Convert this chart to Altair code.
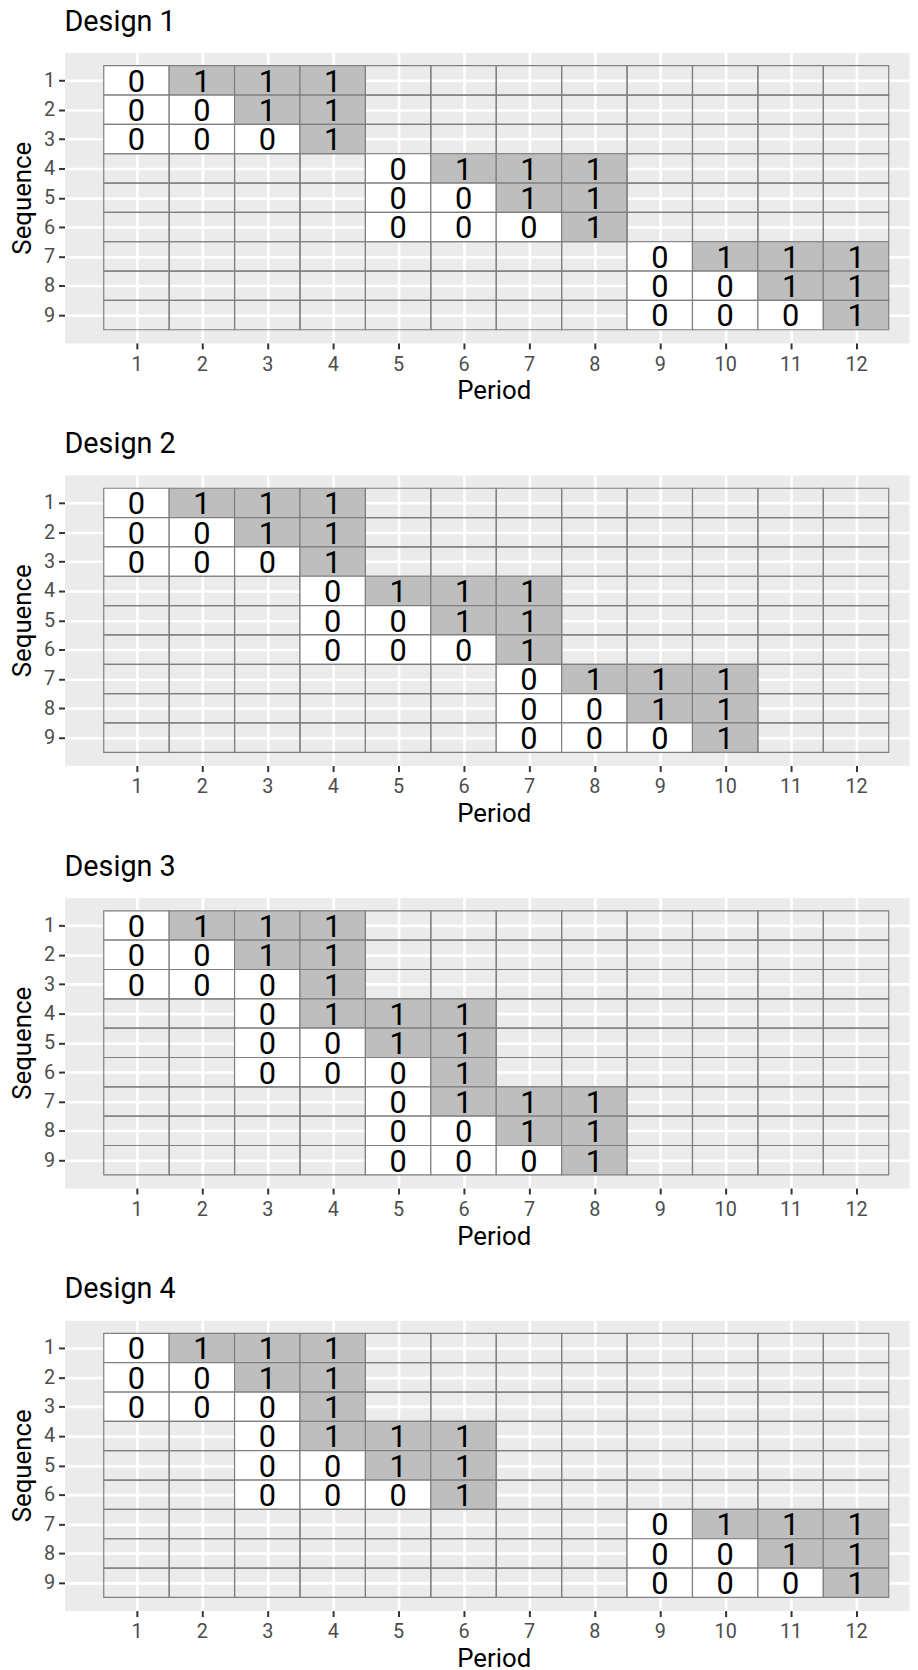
import altair as alt
import pandas as pd

FONT = "Roboto"

x_ticks = list(range(1, 13))
y_ticks = list(range(1, 10))

design_titles = ["Design 1", "Design 2", "Design 3", "Design 4"]

# one string per sequence (1..9), one character per period (1..12); "." = empty cell
design_1 = [
    "0111........",
    "0011........",
    "0001........",
    "....0111....",
    "....0011....",
    "....0001....",
    "........0111",
    "........0011",
    "........0001",
]
design_2 = [
    "0111........",
    "0011........",
    "0001........",
    "...0111.....",
    "...0011.....",
    "...0001.....",
    "......0111..",
    "......0011..",
    "......0001..",
]
design_3 = [
    "0111........",
    "0011........",
    "0001........",
    "..0111......",
    "..0011......",
    "..0001......",
    "....0111....",
    "....0011....",
    "....0001....",
]
design_4 = [
    "0111........",
    "0011........",
    "0001........",
    "..0111......",
    "..0011......",
    "..0001......",
    "........0111",
    "........0011",
    "........0001",
]
designs = [design_1, design_2, design_3, design_4]


def to_frame(rows):
    recs = []
    for s, row in enumerate(rows, start=1):
        for p, ch in enumerate(row, start=1):
            recs.append({
                "seq": s, "period": p,
                "value": "" if ch == "." else ch,
                "x0": p - 0.5, "x1": p + 0.5,
                "y0": s - 0.5, "y1": s + 0.5,
            })
    return pd.DataFrame(recs)


def x_axis():
    return alt.Axis(
        values=x_ticks, title="Period", grid=True, gridColor="white", gridWidth=2.6,
        domain=False, ticks=True, tickSize=6, tickWidth=2, tickColor="#333333",
        labelFont=FONT, labelFontSize=20, labelColor="#4D4D4D", labelPadding=5.5,
        labelFlush=False, labelOverlap=False,
        titleFont=FONT, titleFontSize=26, titleColor="black", titleFontWeight="normal",
        titlePadding=4, titleX=433,
    )


def y_axis():
    return alt.Axis(
        values=y_ticks, title="Sequence", grid=True, gridColor="white", gridWidth=2.6,
        domain=False, ticks=True, tickSize=6, tickWidth=2, tickColor="#333333",
        labelFont=FONT, labelFontSize=20, labelColor="#4D4D4D", labelPadding=4,
        labelFlush=False, labelOverlap=False,
        titleFont=FONT, titleFontSize=26, titleColor="black", titleFontWeight="normal",
        titlePadding=8.5,
    )


def panel(title, rows):
    df = to_frame(rows)
    xs = alt.Scale(domain=[-0.1, 12.81], nice=False, zero=False)
    ys = alt.Scale(domain=[0.05, 9.95], nice=False, zero=False, reverse=True)
    base = alt.Chart(df)
    tiles = base.mark_rect(stroke="#7F7F7F", strokeWidth=1.2).encode(
        x=alt.X("x0:Q", scale=xs, axis=x_axis()),
        x2="x1:Q",
        y=alt.Y("y0:Q", scale=ys, axis=y_axis()),
        y2="y1:Q",
        fill=alt.Fill(
            "value:N",
            scale=alt.Scale(domain=["0", "1", ""],
                            range=["#FFFFFF", "#BEBEBE", "rgba(0,0,0,0)"]),
            legend=None,
        ),
    )
    labels = base.transform_filter("datum.value != ''").mark_text(
        font=FONT, fontSize=31, baseline="middle", align="center", dy=2.5, color="black"
    ).encode(
        x=alt.X("period:Q", scale=xs, axis=x_axis()),
        y=alt.Y("seq:Q", scale=ys, axis=y_axis()),
        text="value:N",
    )
    return alt.layer(tiles, labels).properties(
        width=852, height=293,
        view=alt.ViewBackground(fill="#EBEBEB", stroke="transparent"),
        title=alt.TitleParams(
            text=title, anchor="start", frame="group", fontSize=29, font=FONT,
            fontWeight="normal", color="black", baseline="bottom", offset=-13.1,
        ),
    )


chart = alt.vconcat(
    *[panel(t, d) for t, d in zip(design_titles, designs)], spacing=25.3
).properties(
    padding={"left": 0, "top": -8.5, "right": 0, "bottom": 0},
    background="white",
).configure_view(
    stroke="transparent", fill="#EBEBEB"
)

chart.save("out.html", embed_options={"renderer": "svg", "actions": False})
